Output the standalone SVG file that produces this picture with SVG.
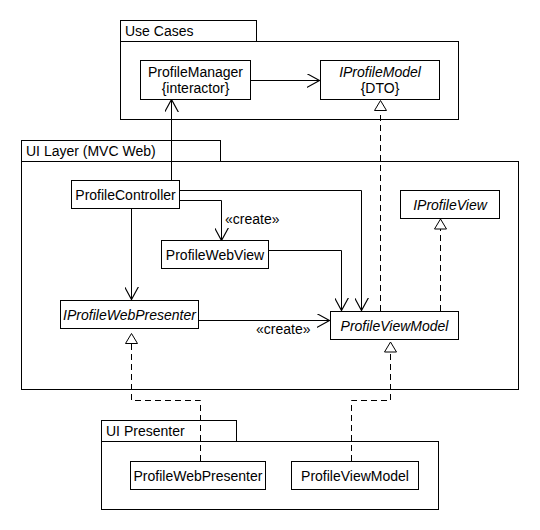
<svg xmlns="http://www.w3.org/2000/svg" width="540" height="530" viewBox="0 0 540 530">
<style>
.bg{fill:#fff}
.box{fill:#fff;stroke:#000;stroke-width:1}
.pkg{fill:#fff;stroke:#000;stroke-width:1}
.t{font-family:"Liberation Sans",Arial,sans-serif;font-size:14px;fill:#000}
.i{font-style:italic}
.m{text-anchor:middle}
.ln{fill:none;stroke:#000;stroke-width:1}
.d{fill:none;stroke:#000;stroke-width:1;stroke-dasharray:6,4}
.tri{fill:#fff;stroke:#000;stroke-width:1}
</style>
<defs>
<marker id="open" markerWidth="14" markerHeight="14" refX="11" refY="6" orient="auto" markerUnits="userSpaceOnUse" viewBox="0 0 12 12">
<path d="M0,0 L11,6 L0,12" fill="none" stroke="#000" stroke-width="1"/>
</marker>
</defs>
<rect class="bg" x="0" y="0" width="540" height="530"/>

<g id="pkg-usecases">
<rect class="pkg" x="120.5" y="20.5" width="136" height="21"/>
<rect class="pkg" x="120.5" y="41.5" width="338" height="78"/>
<text class="t" x="125" y="36">Use Cases</text>
</g>
<g id="pkg-uilayer">
<rect class="pkg" x="21.5" y="140.5" width="199" height="21"/>
<rect class="pkg" x="21.5" y="161.5" width="497" height="228"/>
<text class="t" x="26" y="156">UI Layer (MVC Web)</text>
</g>
<g id="pkg-uipresenter">
<rect class="pkg" x="101.5" y="420.5" width="135" height="21"/>
<rect class="pkg" x="101.5" y="441.5" width="337" height="68"/>
<text class="t" x="106" y="436">UI Presenter</text>
</g>

<g id="connectors">
<path class="ln" d="M250,80.5 H319.5" marker-end="url(#open)"/>
<path class="ln" d="M171.5,180 V99.5" marker-end="url(#open)"/>
<path class="ln" d="M180,190.5 H361.5 V310.5" marker-end="url(#open)"/>
<path class="ln" d="M180,200.5 H221.5 V240.5" marker-end="url(#open)"/>
<text class="t" x="225" y="224">«create»</text>
<path class="ln" d="M269,250.5 H341.5 V310.5" marker-end="url(#open)"/>
<path class="ln" d="M131.5,209 V299.5" marker-end="url(#open)"/>
<path class="ln" d="M199,320.5 H329.5" marker-end="url(#open)"/>
<text class="t" x="256" y="334">«create»</text>
<path class="d" d="M380.5,311 V111"/>
<path class="tri" d="M380.5,100.5 L374.5,110.5 L386.5,110.5 Z"/>
<path class="d" d="M440.5,311 V229"/>
<path class="tri" d="M440.5,219 L434.5,229 L446.5,229 Z"/>
<path class="d" d="M200.5,461 V400.5 H131.5 V344"/>
<path class="tri" d="M131.5,333.5 L125.5,343.5 L137.5,343.5 Z"/>
<path class="d" d="M351.5,461 V400.5 H390.5 V352"/>
<path class="tri" d="M390.5,342 L384.5,352 L396.5,352 Z"/>
</g>

<g id="ProfileManager">
<rect class="box" x="140.5" y="60.5" width="110" height="39"/>
<text class="t m" x="195.5" y="77">ProfileManager</text>
<text class="t m" x="195.5" y="93">{interactor}</text>
</g>
<g id="IProfileModel">
<rect class="box" x="320.5" y="60.5" width="119" height="39"/>
<text class="t m i" x="380" y="77">IProfileModel</text>
<text class="t m" x="380" y="93">{DTO}</text>
</g>
<g id="ProfileController">
<rect class="box" x="71.5" y="180.5" width="108" height="28"/>
<text class="t m" x="125.5" y="199.5">ProfileController</text>
</g>
<g id="ProfileWebView">
<rect class="box" x="161.5" y="240.5" width="107" height="28"/>
<text class="t m" x="215" y="259.5">ProfileWebView</text>
</g>
<g id="IProfileView">
<rect class="box" x="400.5" y="190.5" width="99" height="28"/>
<text class="t m i" x="450" y="209.5">IProfileView</text>
</g>
<g id="IProfileWebPresenter">
<rect class="box" x="60.5" y="300.5" width="138" height="28"/>
<text class="t m i" x="129.5" y="319.5">IProfileWebPresenter</text>
</g>
<g id="ProfileViewModel">
<rect class="box" x="330.5" y="311.5" width="128" height="28"/>
<text class="t m i" x="394.5" y="330.5">ProfileViewModel</text>
</g>
<g id="ProfileWebPresenter">
<rect class="box" x="130.5" y="461.5" width="135" height="28"/>
<text class="t m" x="198" y="480.5">ProfileWebPresenter</text>
</g>
<g id="ProfileViewModelImpl">
<rect class="box" x="291.5" y="461.5" width="127" height="28"/>
<text class="t m" x="355" y="480.5">ProfileViewModel</text>
</g>
</svg>
